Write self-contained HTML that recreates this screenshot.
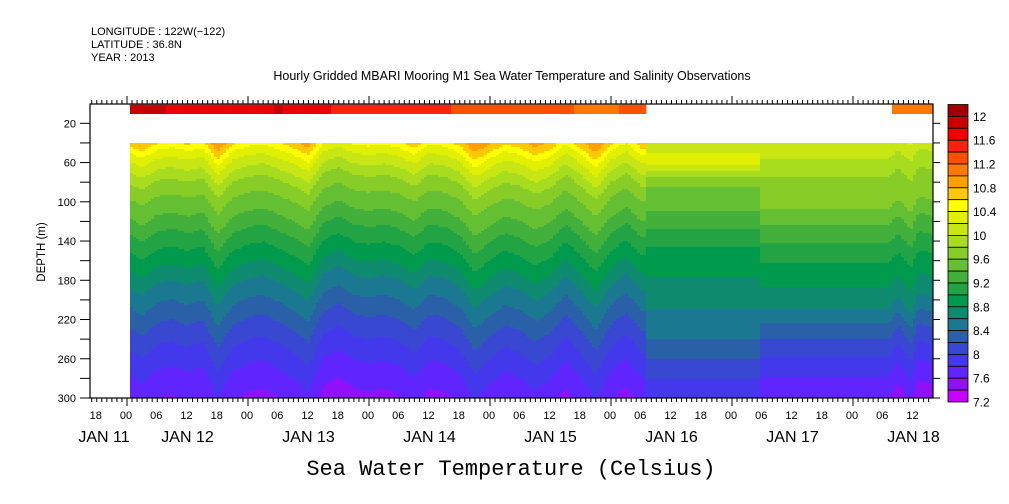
<!DOCTYPE html>
<html><head><meta charset="utf-8">
<style>
body{margin:0;background:#fff;}
svg{display:block;font-family:"Liberation Sans",sans-serif;}
</style></head>
<body>
<svg id="chart" width="1009" height="504" viewBox="0 0 1009 504" xmlns="http://www.w3.org/2000/svg">
<rect x="0" y="0" width="1009" height="504" fill="#fff"/>
<text x="91" y="35" font-size="11">LONGITUDE : 122W(−122)</text>
<text x="91" y="48" font-size="11">LATITUDE : 36.8N</text>
<text x="91" y="61" font-size="11">YEAR : 2013</text>
<text x="512" y="80" font-size="12.5" text-anchor="middle">Hourly Gridded MBARI Mooring M1 Sea Water Temperature and Salinity Observations</text>
<g id="field"></g>
<g id="axes"></g>
<g id="cbar"></g>
<text x="0" y="0" font-size="11.5" text-anchor="middle" transform="translate(45,252) rotate(-90)">DEPTH (m)</text>
<text x="511" y="475" font-size="22" text-anchor="middle" font-family="Liberation Mono, monospace">Sea Water Temperature (Celsius)</text>
</svg>
<script>
// ---- data ----
const levels = [7.2,7.4,7.6,7.8,8.0,8.2,8.4,8.6,8.8,9.0,9.2,9.4,9.6,9.8,10.0,10.2,10.4,10.6,10.8,11.0,11.2,11.4,11.6,11.8,12.0];
const levelColors = ["#c800ff","#9010f8","#6024ff","#4438ec","#3848d0","#2a60a8","#1a7890","#0e8a6e","#009a4c","#22a444","#44b03c","#64c032","#88cc28","#a8dc1e","#c8e614","#e0f000","#ffff00","#ffc800","#ffa000","#ff7800","#ff5000","#ff2010","#f00000","#c80000","#a00000"];
const baseDepths = [20,30,40,50,60,80,100,120,140,160,180,200,220,240,260,280,300,320];
const baseTemps = [11.1,10.9,10.65,10.35,10.15,9.8,9.55,9.35,9.1,8.9,8.65,8.45,8.25,8.07,7.9,7.75,7.62,7.48];
const flatADepths = [20,40,50,60,63,75,85,109,127,146,176,210,239,261,280,300,320];
const flatATemps = [10.1,10.05,10.2,10.35,10.2,9.8,9.6,9.4,9.2,9.0,8.8,8.6,8.4,8.2,8.0,7.8,7.7];
const flatBDepths = [20,40,56,75,107,124,143,163,187,209,224,240,258,278,300,320];
const flatBTemps = [10.35,10.2,10.0,9.8,9.6,9.4,9.2,9.0,8.8,8.6,8.4,8.2,8.0,7.8,7.6,7.5];
// isotherm heave (m) every 3 hours from JAN 12 00
const heave = [0,10,-2,-5,0,-5,20,0,-7,-10,-3,5,15,-12,-20,-10,-7,-10,-5,5,-10,-7,2,22,10,0,5,15,7,-10,5,22,0,-12,5];
const endHours = [151,153,155.5,157,160];
const endHeave = [0,-12,5,-15,-10];
// near-surface band temperature every 3 hours from JAN 12 00
const surfTemps = [11.9,11.9,11.9,11.7,11.7,11.7,11.7,11.7,11.7,11.7,11.85,11.7,11.7,11.7,11.5,11.5,11.5,11.5,11.5,11.5,11.5,11.5,11.3,11.3,11.3,11.3,11.3,11.3,11.3,11.3,11.1,11.1,11.1,11.3,11.3];
const surfEndTemps = [11.1,11.15,11.1,11.1];
const depthTicks = [20,60,100,140,180,220,260,300];
const hourLabels = ["18","00","06","12","18","00","06","12","18","00","06","12","18","00","06","12","18","00","06","12","18","00","06","12","18","00","06","12","18","00","06","12","18","00","06","12"];
const dayLabels = ["JAN 11","JAN 12","JAN 13","JAN 14","JAN 15","JAN 16","JAN 17","JAN 18"];
const cbarLabels = ["12","11.6","11.2","10.8","10.4","10","9.6","9.2","8.8","8.4","8","7.6","7.2"];

// ---- scales ----
const X0=90, X1=933, Y0=104, Y1=398;
const xOfH = h => 127 + h*121/24;
const hOfX = x => (x-127)*24/121;
const yOfD = d => 103.7 + d*0.981;
const dOfY = y => (y-103.7)/0.981;
const NS="http://www.w3.org/2000/svg";
function mk(tag, attrs, parent){const e=document.createElementNS(NS,tag);for(const k in attrs)e.setAttribute(k,attrs[k]);parent.appendChild(e);return e;}
function interp(xs, ys, x){
  if(x<=xs[0]) return ys[0];
  for(let i=1;i<xs.length;i++){ if(x<=xs[i]){const t=(x-xs[i-1])/(xs[i]-xs[i-1]);return ys[i-1]+t*(ys[i]-ys[i-1]);} }
  return ys[ys.length-1];
}
function colorOf(T){
  let idx=0;
  for(let i=0;i<levels.length;i++){ if(T>=levels[i]) idx=i; }
  return levelColors[idx];
}
const heaveHours = heave.map((v,i)=>i*3);
function tempAt(h,d){
  const f = 0.7 + 0.6*(d-40)/260;
  if(h<102.7){ const hv=interp(heaveHours,heave,h); return interp(baseDepths,baseTemps,d-hv*f); }
  if(h<125.3){ return interp(flatADepths,flatATemps,d); }
  if(h<151){ return interp(flatBDepths,flatBTemps,d); }
  const hv=interp(endHours,endHeave,h); return interp(flatBDepths,flatBTemps,d-hv*f);
}

// ---- field ----
const field=document.getElementById('field');
const colW=3, rowH=2, yTop=143;
for(let x=130; x<X1; x+=colW){
  const w=Math.min(colW,X1-x);
  const h=hOfX(x+w/2);
  let runStart=yTop, runColor=null;
  for(let y=yTop; ; y+=rowH){
    const done = y>=Y1;
    const c = done ? null : colorOf(tempAt(h,dOfY(Math.min(y+rowH/2,Y1-0.5))));
    if(c!==runColor){
      if(runColor){
        const yEnd=Math.min(y,Y1);
        const r=mk('rect',{x:x,y:runStart,width:w+0.4,height:yEnd-runStart+(done?0:0.4),fill:runColor},field);
        
        
      }
      runStart=y; runColor=c;
    }
    if(done) break;
  }
  // surface band
  let sT=null;
  if(h<102.7) sT=interp(heaveHours,surfTemps,h);
  else if(h>=151.5) sT=interp([151.5,154,157,160],surfEndTemps,h);
  if(sT!==null){
    const r=mk('rect',{x:x,y:yOfD(1),width:w+0.4,height:yOfD(10.5)-yOfD(1),fill:colorOf(sT)},field);
    
    
  }
}

// ---- axes ----
const ax=document.getElementById('axes');
const frame=mk('rect',{x:X0,y:Y0,width:X1-X0,height:Y1-Y0,fill:'none',stroke:'#000','stroke-width':1.2},ax);


for(let hr=-7; hr<=160; hr++){
  const x=xOfH(hr); if(x<X0||x>X1) continue;
  const major = ((hr%24)+24)%24===0;
  const len = major?8:4;
  mk('line',{x1:x,y1:Y1,x2:x,y2:Y1+len,stroke:'#000','stroke-width':1},ax);
  mk('line',{x1:x,y1:Y0,x2:x,y2:Y0-len,stroke:'#000','stroke-width':1},ax);
}
hourLabels.forEach((lab,i)=>{
  const x=xOfH(-6+6*i); if(x>X1+5) return;
  const t=mk('text',{x:x-1,y:419,'font-size':11,'text-anchor':'middle'},ax); t.textContent=lab;
  
  
});
dayLabels.forEach((lab,i)=>{
  const x = i===0 ? 104 : xOfH(-12+24*i);
  const t=mk('text',{x:x,y:442,'font-size':16,'text-anchor':'middle'},ax); t.textContent=lab;
  
  
});
for(let d=20; d<=300; d+=20){
  const y=yOfD(d);
  mk('line',{x1:X0-10,y1:y,x2:X0,y2:y,stroke:'#000','stroke-width':1},ax);
  mk('line',{x1:X1,y1:y,x2:X1+7,y2:y,stroke:'#000','stroke-width':1},ax);
}
depthTicks.forEach(d=>{
  const t=mk('text',{x:76,y:yOfD(d)+4,'font-size':11,'text-anchor':'end'},ax); t.textContent=String(d);
  
  
});

// ---- colorbar ----
const cb=document.getElementById('cbar');
const cbTop=104.5, boxH=11.9, cbX=948, cbW=20;
const nBox=levelColors.length;
for(let i=0;i<nBox;i++){
  const col=levelColors[nBox-1-i];
  const r=mk('rect',{x:cbX,y:cbTop+i*boxH,width:cbW,height:boxH,fill:col,stroke:'#000','stroke-width':0.8},cb);
  
  
}
cbarLabels.forEach((lab,i)=>{
  const y=cbTop+boxH*(1+2*i);
  const t=mk('text',{x:cbX+cbW+5,y:y+4.5,'font-size':12},cb); t.textContent=lab;
  
  
});
</script>
</body></html>
